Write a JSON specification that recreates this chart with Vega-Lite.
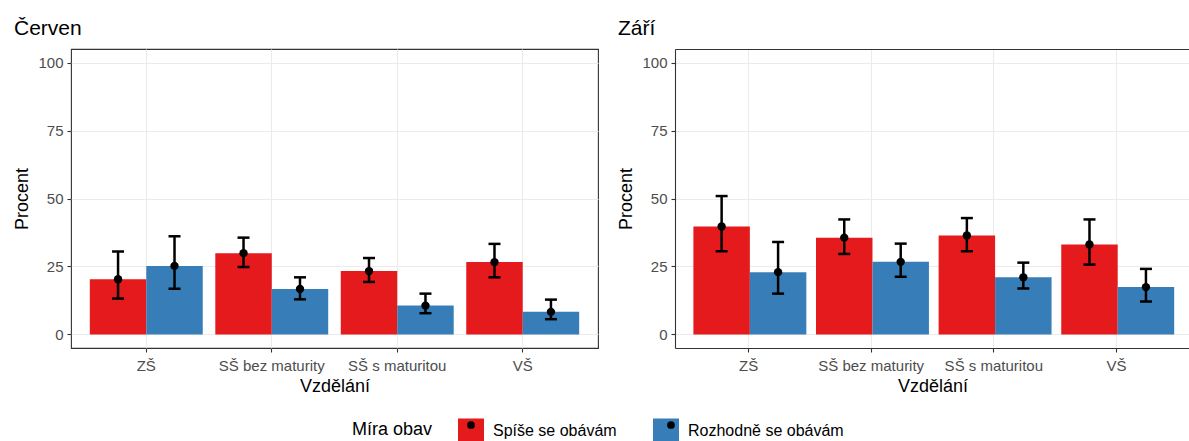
{
  "$schema": "https://vega.github.io/schema/vega-lite/v6.json",
  "padding": {"left": 13, "top": 17, "right": 0, "bottom": 0},
  "spacing": 18,
  "datasets": {
    "obavy": [
      {"mesic": "Červen", "vzdelani": "ZŠ", "mira": "Spíše se obávám", "procent": 20.3, "dolni": 13.2, "horni": 30.5},
      {"mesic": "Červen", "vzdelani": "ZŠ", "mira": "Rozhodně se obávám", "procent": 25.2, "dolni": 16.8, "horni": 36.1},
      {"mesic": "Červen", "vzdelani": "SŠ bez maturity", "mira": "Spíše se obávám", "procent": 29.9, "dolni": 24.8, "horni": 35.6},
      {"mesic": "Červen", "vzdelani": "SŠ bez maturity", "mira": "Rozhodně se obávám", "procent": 16.7, "dolni": 12.9, "horni": 21.0},
      {"mesic": "Červen", "vzdelani": "SŠ s maturitou", "mira": "Spíše se obávám", "procent": 23.3, "dolni": 19.3, "horni": 28.1},
      {"mesic": "Červen", "vzdelani": "SŠ s maturitou", "mira": "Rozhodně se obávám", "procent": 10.6, "dolni": 7.8, "horni": 15.0},
      {"mesic": "Červen", "vzdelani": "VŠ", "mira": "Spíše se obávám", "procent": 26.6, "dolni": 21.0, "horni": 33.3},
      {"mesic": "Červen", "vzdelani": "VŠ", "mira": "Rozhodně se obávám", "procent": 8.3, "dolni": 5.6, "horni": 12.8},
      {"mesic": "Září", "vzdelani": "ZŠ", "mira": "Spíše se obávám", "procent": 39.7, "dolni": 30.6, "horni": 50.9},
      {"mesic": "Září", "vzdelani": "ZŠ", "mira": "Rozhodně se obávám", "procent": 22.9, "dolni": 15.0, "horni": 34.0},
      {"mesic": "Září", "vzdelani": "SŠ bez maturity", "mira": "Spíše se obávám", "procent": 35.6, "dolni": 29.6, "horni": 42.3},
      {"mesic": "Září", "vzdelani": "SŠ bez maturity", "mira": "Rozhodně se obávám", "procent": 26.7, "dolni": 21.2, "horni": 33.4},
      {"mesic": "Září", "vzdelani": "SŠ s maturitou", "mira": "Spíše se obávám", "procent": 36.4, "dolni": 30.6, "horni": 42.8},
      {"mesic": "Září", "vzdelani": "SŠ s maturitou", "mira": "Rozhodně se obávám", "procent": 21.0, "dolni": 16.9, "horni": 26.4},
      {"mesic": "Září", "vzdelani": "VŠ", "mira": "Spíše se obávám", "procent": 33.1, "dolni": 25.7, "horni": 42.3},
      {"mesic": "Září", "vzdelani": "VŠ", "mira": "Rozhodně se obávám", "procent": 17.4, "dolni": 12.1, "horni": 24.1}
    ]
  },
  "config": {
    "font": "Liberation Sans",
    "view": {"stroke": "#333333", "strokeWidth": 1.1},
    "axis": {
      "labelFont": "Liberation Sans",
      "labelFontSize": 15,
      "labelColor": "#4D4D4D",
      "titleFont": "Liberation Sans",
      "titleFontSize": 18,
      "titleFontWeight": "normal",
      "titleColor": "#000000",
      "tickColor": "#333333",
      "tickSize": 4,
      "tickWidth": 1.1,
      "gridColor": "#EBEBEB",
      "gridWidth": 1.1,
      "domain": false,
      "domainColor": "#333333",
      "domainWidth": 1.1
    },
    "title": {"anchor": "start", "font": "Liberation Sans", "fontSize": 21, "fontWeight": "normal", "color": "#000000", "offset": 10},
    "legend": {"padding": 0}
  },
  "hconcat": [
    {
      "width": 527,
      "height": 299,
      "title": "Červen",
      "data": {"name": "obavy"},
      "transform": [{"filter": "datum.mesic === 'Červen'"}],
      "encoding": {
        "x": {
          "field": "vzdelani", "type": "nominal",
          "sort": ["ZŠ", "SŠ bez maturity", "SŠ s maturitou", "VŠ"],
          "scale": {"paddingInner": 0.1, "paddingOuter": 0.15},
          "axis": {"title": "Vzdělání", "labelAngle": 0, "bandPosition": 0.5, "grid": true, "labelPadding": 6, "titlePadding": 4}
        },
        "xOffset": {"field": "mira", "type": "nominal", "sort": ["Spíše se obávám", "Rozhodně se obávám"], "scale": {"paddingInner": 0, "paddingOuter": 0}}
      },
      "layer": [
        {
          "mark": {"type": "bar", "strokeWidth": 0},
          "encoding": {
            "y": {
              "field": "procent", "type": "quantitative", "title": "Procent",
              "scale": {"domain": [-5, 105], "nice": false, "zero": false},
              "axis": {
                "values": [0, 12.5, 25, 37.5, 50, 62.5, 75, 87.5, 100],
                "labelExpr": "datum.value % 25 === 0 ? datum.label : ''",
                "tickOpacity": {"condition": {"test": "datum.value % 25 !== 0", "value": 0}, "value": 1},
                "labelPadding": 4, "titlePadding": 6
              }
            },
            "y2": {"datum": 0},
            "color": {
              "field": "mira", "type": "nominal",
              "scale": {"domain": ["Spíše se obávám", "Rozhodně se obávám"], "range": ["#E41A1C", "#377EB8"]},
              "legend": {
                "orient": "none", "legendX": 281, "legendY": 369, "direction": "horizontal",
                "title": "Míra obav", "titleOrient": "left", "titleFontSize": 18, "titleFontWeight": "normal", "titleColor": "#000000", "titlePadding": 25,
                "labelFontSize": 16, "labelColor": "#000000", "labelOffset": 9, "columnPadding": 36,
                "symbolType": "M-1,-1H1V0.77H-1Z", "symbolSize": 676, "symbolStrokeWidth": 0, "symbolOpacity": 1
              }
            }
          }
        },
        {
          "mark": {"type": "rule", "color": "#000000", "strokeWidth": 2.5},
          "encoding": {
            "y": {"field": "dolni", "type": "quantitative", "title": "Procent"},
            "y2": {"field": "horni"}
          }
        },
        {
          "mark": {"type": "tick", "orient": "horizontal", "color": "#000000", "size": 12, "thickness": 2.5, "opacity": 1},
          "encoding": {"y": {"field": "dolni", "type": "quantitative", "title": "Procent"}}
        },
        {
          "mark": {"type": "tick", "orient": "horizontal", "color": "#000000", "size": 12, "thickness": 2.5, "opacity": 1},
          "encoding": {"y": {"field": "horni", "type": "quantitative", "title": "Procent"}}
        },
        {
          "mark": {"type": "point", "filled": true, "color": "#000000", "size": 70, "opacity": 1},
          "encoding": {
            "y": {"field": "procent", "type": "quantitative", "title": "Procent"},
            "shape": {
              "field": "mira", "type": "nominal",
              "sort": ["Spíše se obávám", "Rozhodně se obávám"],
              "scale": {"range": ["circle", "circle"]},
              "legend": {
                "orient": "none", "legendX": 281, "legendY": 368, "direction": "horizontal",
                "title": "Míra obav", "titleOrient": "left", "titleFontSize": 18, "titleFontWeight": "normal", "titleOpacity": 0, "titlePadding": 25,
                "labelFontSize": 16, "labelOpacity": 0, "labelOffset": 19, "columnPadding": 36,
                "symbolSize": 60, "symbolOffset": 5, "symbolFillColor": "#000000", "symbolStrokeWidth": 0, "symbolOpacity": 1
              }
            }
          }
        }
      ]
    },
    {
      "width": 515,
      "height": 299,
      "title": "Září",
      "view": {"stroke": null},
      "data": {"name": "obavy"},
      "transform": [{"filter": "datum.mesic === 'Září'"}],
      "encoding": {
        "x": {
          "field": "vzdelani", "type": "nominal",
          "sort": ["ZŠ", "SŠ bez maturity", "SŠ s maturitou", "VŠ"],
          "scale": {"paddingInner": 0.1, "paddingOuter": 0.15},
          "axis": null
        },
        "xOffset": {"field": "mira", "type": "nominal", "sort": ["Spíše se obávám", "Rozhodně se obávám"], "scale": {"paddingInner": 0, "paddingOuter": 0}}
      },
      "resolve": {"axis": {"x": "independent"}},
      "layer": [
        {
          "mark": {"type": "bar", "strokeWidth": 0},
          "encoding": {
            "x": {
              "field": "vzdelani", "type": "nominal",
              "sort": ["ZŠ", "SŠ bez maturity", "SŠ s maturitou", "VŠ"],
              "axis": {"title": "Vzdělání", "labelAngle": 0, "bandPosition": 0.5, "grid": true, "domain": true, "labelPadding": 6, "titlePadding": 4}
            },
            "y": {
              "field": "procent", "type": "quantitative", "title": "Procent",
              "scale": {"domain": [-5, 105], "nice": false, "zero": false},
              "axis": {
                "values": [0, 12.5, 25, 37.5, 50, 62.5, 75, 87.5, 100],
                "labelExpr": "datum.value % 25 === 0 ? datum.label : ''",
                "tickOpacity": {"condition": {"test": "datum.value % 25 !== 0", "value": 0}, "value": 1},
                "domain": true,
                "labelPadding": 4, "titlePadding": 6
              }
            },
            "y2": {"datum": 0},
            "color": {
              "field": "mira", "type": "nominal",
              "scale": {"domain": ["Spíše se obávám", "Rozhodně se obávám"], "range": ["#E41A1C", "#377EB8"]}
            }
          }
        },
        {
          "mark": {"type": "rule", "color": "#000000", "strokeWidth": 2.5},
          "encoding": {
            "x": {
              "field": "vzdelani", "type": "nominal",
              "sort": ["ZŠ", "SŠ bez maturity", "SŠ s maturitou", "VŠ"],
              "axis": {"orient": "top", "title": null, "labels": false, "ticks": false, "grid": false, "domain": true}
            },
            "y": {"field": "dolni", "type": "quantitative", "title": "Procent"},
            "y2": {"field": "horni"}
          }
        },
        {
          "mark": {"type": "tick", "orient": "horizontal", "color": "#000000", "size": 12, "thickness": 2.5, "opacity": 1},
          "encoding": {"y": {"field": "dolni", "type": "quantitative", "title": "Procent"}}
        },
        {
          "mark": {"type": "tick", "orient": "horizontal", "color": "#000000", "size": 12, "thickness": 2.5, "opacity": 1},
          "encoding": {"y": {"field": "horni", "type": "quantitative", "title": "Procent"}}
        },
        {
          "mark": {"type": "point", "filled": true, "color": "#000000", "size": 70, "opacity": 1},
          "encoding": {
            "y": {"field": "procent", "type": "quantitative", "title": "Procent"},
            "shape": {"field": "mira", "type": "nominal", "sort": ["Spíše se obávám", "Rozhodně se obávám"]}
          }
        }
      ]
    }
  ]
}
